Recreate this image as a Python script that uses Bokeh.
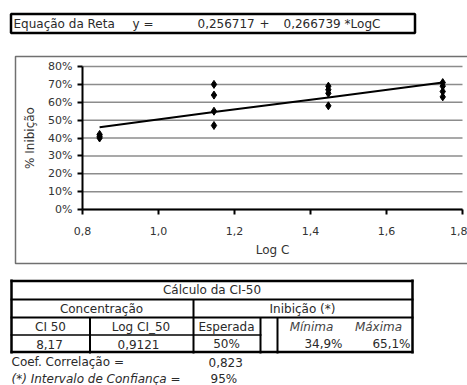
from bokeh.plotting import figure
from bokeh.models import (Range1d, FixedTicker, NumeralTickFormatter,
                          CustomJSTickFormatter, ColumnDataSource)
from bokeh.core.properties import value
from bokeh.embed import file_html
from bokeh.resources import INLINE

# ---------------- data ----------------
log_c = [0.845, 1.146, 1.447, 1.748]
fit_y = [0.46, 0.545, 0.627, 0.71]
obs_x = [0.845, 0.845, 0.845,
         1.146, 1.146, 1.146, 1.146,
         1.447, 1.447, 1.447, 1.447,
         1.748, 1.748, 1.748, 1.748]
obs_y = [0.40, 0.41, 0.42,
         0.70, 0.64, 0.55, 0.47,
         0.69, 0.67, 0.65, 0.58,
         0.71, 0.69, 0.66, 0.63]
x_ticks = [0.8, 1.0, 1.2, 1.4, 1.6, 1.8]
y_ticks = [0.0, 0.1, 0.2, 0.3, 0.4, 0.5, 0.6, 0.7, 0.8]

eq_texts = ["Equação da Reta", "y =", "0,256717", "+", "0,266739 *LogC"]
table_title = "Cálculo da CI-50"
group_labels = ["Concentração", "Inibição (*)"]
head_labels = ["CI 50", "Log CI_50", "Esperada"]
head_italic = ["Mínima", "Máxima"]
row_values = ["8,17", "0,9121", "50%"]
interval_values = ["34,9%", "65,1%"]
footer_labels = ["Coef. Correlação ="]
footer_italic = ["(*) Intervalo de Confiança ="]
footer_values = ["0,823", "95%"]

W, H = 467, 385
FONT = "DejaVu Sans"
TXT = "#2a2a2a"

# plot area of the chart, in page pixels
PX_L, PX_R = 82.0, 462.0      # x = 0.8 .. 1.8
PY_T, PY_B = 66.0, 209.0      # y = 0.8 .. 0.0
kx = (PX_R - PX_L) / (x_ticks[-1] - x_ticks[0])
ky = (PY_B - PY_T) / (y_ticks[-1] - y_ticks[0])
x0 = x_ticks[0] - PX_L / kx
x1 = x_ticks[0] + (W - PX_L) / kx
y1 = y_ticks[-1] + PY_T / ky
y0 = y_ticks[0] - (H - PY_B) / ky

p = figure(width=W, height=H, x_range=Range1d(x0, x1), y_range=Range1d(y0, y1),
           output_backend="svg", toolbar_location=None,
           min_border_left=0, min_border_right=0, min_border_top=0, min_border_bottom=0,
           background_fill_color="white", border_fill_color="white",
           outline_line_color=None)
p.extra_x_ranges = {"px": Range1d(0, W)}
p.extra_y_ranges = {"px": Range1d(H, 0)}
p.grid.visible = False

# ---------------- decorations (page pixel range) ----------------
PX = dict(x_range_name="px", y_range_name="px")

# outer chart frame
p.quad(left=[15], right=[480], top=[56], bottom=[263], fill_alpha=0,
       line_color="#707070", line_width=1.5, **PX)
# equation box
p.quad(left=[10.5], right=[414.5], top=[13.5], bottom=[32.5], fill_color="white",
       line_color="black", line_width=2.5, **PX)

# table lines
h_x0 = [10, 10, 10, 10, 10]
h_x1 = [413, 413, 413, 413, 261]
h_y = [280.5, 351.5, 299, 317, 334.5]
h_w = [2.5, 2.5, 2, 2, 1.5]
v_x = [11, 412, 193, 89.5, 260, 277]
v_y0 = [279, 279, 299, 317, 317, 317]
v_y1 = [353, 353, 353, 353, 353, 353]
v_w = [2.5, 2.5, 2, 2, 2, 2]
p.segment(x0=h_x0, y0=h_y, x1=h_x1, y1=h_y, line_color="black", line_width=h_w, **PX)
p.segment(x0=v_x, y0=v_y0, x1=v_x, y1=v_y1, line_color="black", line_width=v_w, **PX)

def texts(xs, ys, labels, align="left", size="12px", style="normal", color=TXT):
    src = ColumnDataSource(dict(x=xs, y=ys, t=labels))
    p.text("x", "y", text="t", source=src, text_font=value(FONT),
           text_font_size=value(size), text_font_style=style, text_color=color,
           text_align=align, text_baseline="middle", **PX)

texts([13, 132, 197, 259, 283], [23] * 5, eq_texts)
texts([211.5], [289.5], [table_title], align="center")
texts([101, 302], [308, 308], group_labels, align="center")
texts([50, 140.5, 226], [326, 326, 326], head_labels, align="center")
texts([311, 378], [326, 326], head_italic, align="center", style="italic", color="#444444")
texts([49, 138, 226], [343.5, 343.5, 343.5], row_values, align="center")
texts([342, 410], [343.5, 343.5], interval_values, align="right")
texts([11], [361.5], footer_labels)
texts([11], [378], footer_italic, style="italic")
texts([208, 210], [361.5, 378], footer_values)

# ---------------- chart ----------------
# horizontal gridlines across the plot area
n = len(y_ticks)
p.segment(x0=[x_ticks[0]] * n, x1=[x_ticks[-1]] * n, y0=y_ticks, y1=y_ticks,
          line_color="#8c8c8c", line_width=1.5)

src_fit = ColumnDataSource(dict(x=log_c, y=fit_y))
src_obs = ColumnDataSource(dict(x=obs_x, y=obs_y))
p.line("x", "y", source=src_fit, line_color="black", line_width=2)
p.scatter("x", "y", source=src_obs, marker="diamond", size=8,
          fill_color="black", line_color="black")

# axes, fixed at the plot-area origin
p.xaxis.fixed_location = y_ticks[0]
p.yaxis.fixed_location = x_ticks[0]
p.xaxis.bounds = (x_ticks[0], x_ticks[-1])
p.yaxis.bounds = (y_ticks[0], y_ticks[-1])
p.xaxis.ticker = FixedTicker(ticks=x_ticks)
p.xaxis.formatter = CustomJSTickFormatter(code="return tick.toFixed(1).replace('.', ',');")
p.yaxis.ticker = FixedTicker(ticks=y_ticks)
p.yaxis.formatter = NumeralTickFormatter(format="0%")
for ax in (p.xaxis, p.yaxis):
    ax.axis_line_color = "black"
    ax.axis_line_width = 2
    ax.major_tick_line_color = "black"
    ax.major_tick_line_width = 2
    ax.major_tick_out = 5
    ax.major_tick_in = 0
    ax.minor_tick_line_color = None
    ax.major_label_text_font = FONT
    ax.major_label_text_font_size = "11px"
    ax.major_label_text_color = "#333333"
    ax.axis_label_text_font = FONT
    ax.axis_label_text_font_size = "12px"
    ax.axis_label_text_font_style = "normal"
    ax.axis_label_text_color = "#333333"
p.xaxis.axis_label = "Log C"
p.yaxis.axis_label = "% Inibição"
p.xaxis.major_label_standoff = 12
p.xaxis.axis_label_standoff = 5
p.yaxis.major_label_standoff = 5
p.yaxis.axis_label_standoff = 8

open("out.html", "w").write(file_html(p, INLINE))
